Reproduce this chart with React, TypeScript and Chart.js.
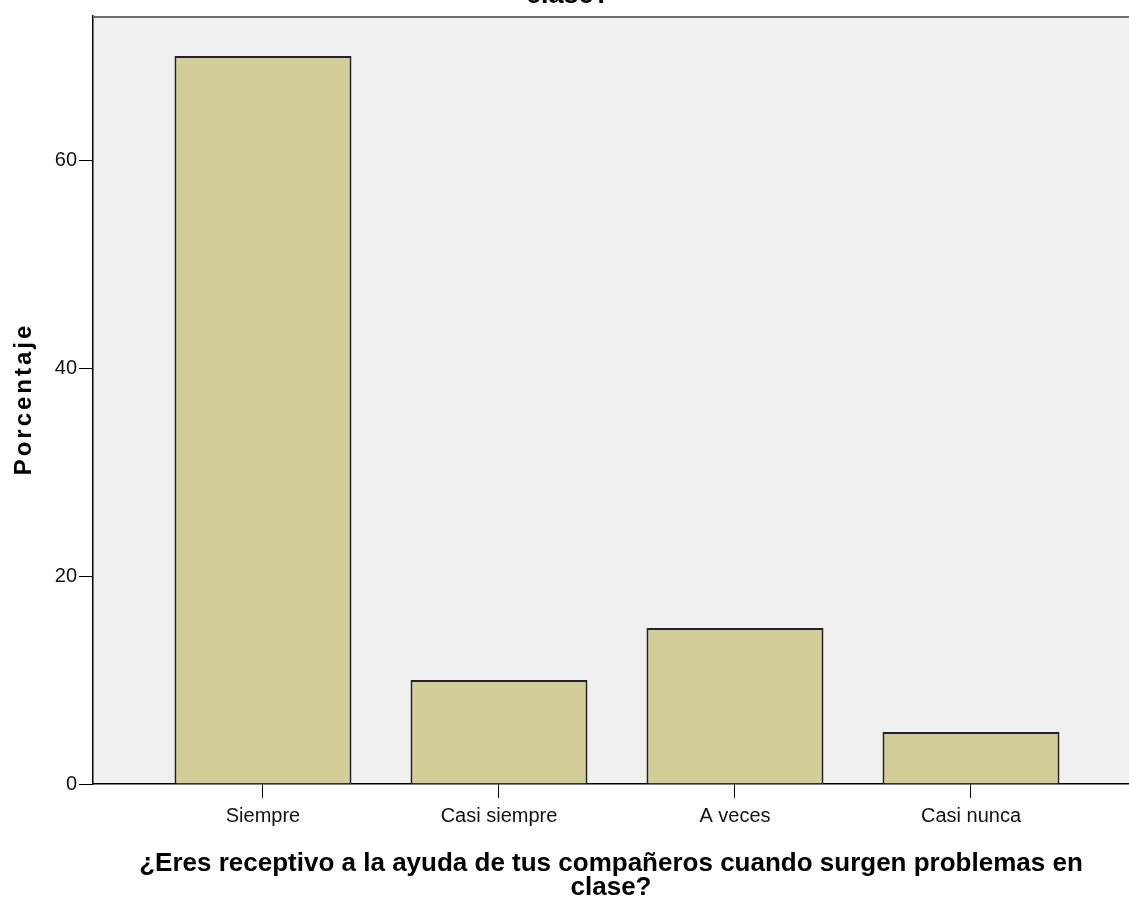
import { useEffect, useRef } from 'react';
import { Chart, registerables } from 'chart.js';

Chart.register(...registerables);

const categories = ['Siempre', 'Casi siempre', 'A veces', 'Casi nunca'];
const percentages = [70, 10, 15, 5];
const yTicks = [0, 20, 40, 60];
const xTitle = ['¿Eres receptivo a la ayuda de tus compañeros cuando surgen problemas en', 'clase?'];
const yTitle = 'Porcentaje';
const topTitleTail = 'clase?';

export default function App() {
  const ref = useRef<HTMLCanvasElement>(null);

  useEffect(() => {
    if (!ref.current) return;

    const framePlugin = {
      id: 'spssFrame',
      beforeDraw(chart: any) {
        const { ctx, chartArea: a } = chart;
        ctx.save();
        ctx.fillStyle = '#f0f0f0';
        ctx.fillRect(a.left, a.top, a.right - a.left, a.bottom - a.top);
        ctx.restore();
      },
      afterDraw(chart: any) {
        const { ctx, chartArea: a } = chart;
        ctx.save();
        ctx.strokeStyle = '#6e6e6e';
        ctx.lineWidth = 2;
        ctx.beginPath();
        ctx.moveTo(a.left, a.top + 1);
        ctx.lineTo(a.right, a.top + 1);
        ctx.stroke();
        ctx.restore();

        ctx.save();
        ctx.fillStyle = '#000';
        ctx.font = 'bold 24px Arial';
        (ctx as any).letterSpacing = '3px';
        ctx.translate(24, (a.top + a.bottom) / 2);
        ctx.rotate(-Math.PI / 2);
        ctx.textAlign = 'center';
        ctx.textBaseline = 'middle';
        ctx.fillText(yTitle, 1, 0);
        ctx.restore();

        ctx.save();
        ctx.fillStyle = '#000';
        ctx.font = 'bold 27px Arial';
        ctx.textAlign = 'center';
        ctx.textBaseline = 'alphabetic';
        ctx.fillText(topTitleTail, 568, 3);
        ctx.restore();
      },
    };

    const chart = new Chart(ref.current, {
      type: 'bar',
      data: {
        datasets: [
          {
            data: percentages.map((y, i) => ({ x: i + 1, y })),
            backgroundColor: '#d3cd97',
            borderColor: '#222222',
            borderWidth: 2,
            barPercentage: 0.75,
            categoryPercentage: 1,
          },
        ],
      },
      options: {
        animation: false,
        responsive: false,
        layout: { padding: { top: 16, right: 0, left: 0, bottom: 0 } },
        plugins: { legend: { display: false }, tooltip: { enabled: false } },
        scales: {
          x: {
            type: 'linear',
            min: 0.2797,
            max: 4.6695,
            offset: false,
            afterBuildTicks: (s: any) => {
              s.ticks = categories.map((_, i) => ({ value: i + 1 }));
            },
            afterFit: (s: any) => {
              s.height = 118;
            },
            ticks: {
              callback: (v: any) => categories[Math.round(Number(v)) - 1] ?? '',
              font: { family: 'Arial', size: 20 },
              color: '#111',
              padding: 6,
              maxRotation: 0,
              autoSkip: false,
            },
            grid: { drawOnChartArea: false, drawTicks: true, tickLength: 14, color: '#000', offset: false },
            border: { display: true, color: '#000', width: 1.5 },
            title: {
              display: true,
              text: xTitle,
              color: '#000',
              font: { family: 'Arial', size: 26, weight: 'bold', lineHeight: '24px' },
              padding: { top: 0, bottom: 2 },
            },
          },
          y: {
            min: 0,
            max: 73.85,
            afterBuildTicks: (s: any) => {
              s.ticks = yTicks.map((v) => ({ value: v }));
            },
            afterFit: (s: any) => {
              s.width = 93;
            },
            ticks: { font: { family: 'Arial', size: 20 }, color: '#111', padding: 2 },
            grid: { drawOnChartArea: false, drawTicks: true, tickLength: 14, color: '#000' },
            border: { display: true, color: '#000', width: 1.5 },
            title: { display: false },
          },
        },
      },
      plugins: [framePlugin],
    } as any);

    return () => chart.destroy();
  }, []);

  return (
    <div style={{ position: 'absolute', left: 0, top: 0, width: 1129, height: 902, background: '#fff' }}>
      <canvas ref={ref} width={1129} height={902} style={{ display: 'block' }} />
    </div>
  );
}
